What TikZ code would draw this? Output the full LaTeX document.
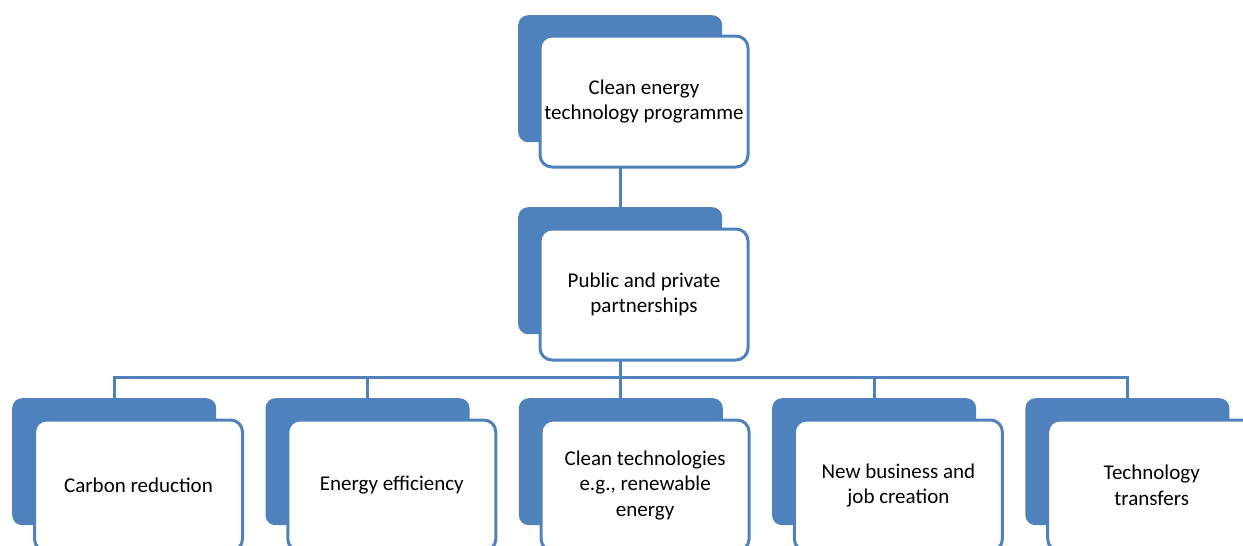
\documentclass[tikz,border=0pt]{standalone}
\usepackage{fontspec}
\setmainfont{Carlito}
\definecolor{smartblue}{HTML}{4F81BD}

\begin{document}
\begin{tikzpicture}[
  x=1pt, y=-1pt,
  back/.style={fill=smartblue, rounded corners=10pt, minimum width=204pt,
    minimum height=127pt, inner sep=0pt, anchor=north west},
  card/.style={draw=smartblue, fill=white, line width=3pt, rounded corners=12pt,
    minimum width=208pt, minimum height=131pt, inner sep=0pt, anchor=north west,
    align=center, font=\fontsize{21}{25.6}\selectfont},
  link/.style={draw=smartblue, line width=3pt, line cap=rect}
]
  \clip (0,0) rectangle (1243,546);
  % top level
  \node[back] (top-back) at (518,15) {};
  \node[card] (top) at (538.5,34.5) {Clean energy\\technology programme};
  % second level
  \node[back] (mid-back) at (518,207) {};
  \node[card] (mid) at (538.5,227.5) {Public and private\\partnerships};
  \coordinate (bar) at (0,377);
  % bottom row
  \foreach \x/\name/\txt in {12/carbon/{Carbon reduction},
      265.3/efficiency/{Energy efficiency},
      518.6/cleantech/{Clean technologies\\e.g., renewable\\energy},
      771.9/business/{New business and\\job creation},
      1025.2/transfers/{Technology\\transfers}} {
    \node[back] (\name-back) at (\x,398) {};
    \node[card] (\name) at (\x+21,418.5) {\txt};
    \draw[link] (\name-back.north) -- (bar -| \name-back.north);
  }
  \draw[link] (top.south -| top-back.south) -- (mid-back.north);
  \draw[link] (mid.south -| mid-back.south) -- (bar -| mid-back.south);
  \draw[link] (bar -| carbon-back.north) -- (bar -| transfers-back.north);
\end{tikzpicture}
\end{document}
